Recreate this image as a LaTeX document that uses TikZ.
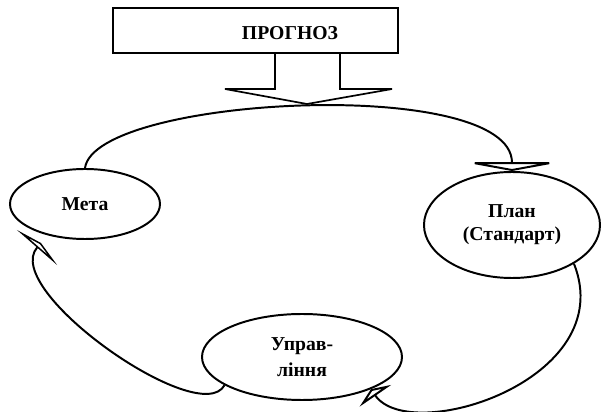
\documentclass[tikz,border=0pt]{standalone}
\usepackage{fontspec}
\setmainfont{Liberation Serif}
\usetikzlibrary{arrows.meta, shapes.geometric, positioning}

\tikzset{
  stage/.style={draw, ellipse, line width=1.4pt, inner sep=0pt, align=center,
    font=\fontsize{14}{16.5}\selectfont\bfseries},
  flow/.style={line width=1.4pt},
}

\begin{document}
\begin{tikzpicture}
    \useasboundingbox (0,0) rectangle (15.2,10.3);

    % Forecast box with block arrow
    \node[draw, line width=1.4pt, minimum width=7.125cm, minimum height=1.125cm, inner sep=0pt] (prognoz) at (6.39,9.54) {};
    \node[font=\fontsize{14}{16.5}\selectfont\bfseries] (prognoztext) at (7.25,9.475) {ПРОГНОЗ};
    \draw[line width=1.2pt] (6.875,8.975) -- (6.875,8.075) -- (5.625,8.075) -- (7.675,7.7)
        -- (9.8,8.075) -- (8.5,8.075) -- (8.5,8.975);

    % Stages of the cycle
    \node[stage, minimum width=3.75cm, minimum height=1.75cm] (meta) at (2.125,5.2) {Мета};
    \node[stage, minimum width=4.4cm, minimum height=2.65cm] (plan) at (12.8,4.675) {План\\(Стандарт)};
    \node[stage, minimum width=5cm, minimum height=2.15cm] (upr) at (7.55,1.375) {Управ-\\[2pt]ління};
    \coordinate (metain) at (1.025,4.225);

    % Cycle connectors
    \draw[flow, -{Triangle[open, length=0.22cm, width=2.4cm]}] (meta.north)
        .. controls (2.375,7.9) and (12.8,8.425) .. (plan.north);
    \draw[flow, -{Triangle[open, length=0.2cm, width=0.95cm]}] (plan.-32)
        .. controls (15.5,0.8) and (10.25,-0.85) .. (upr.-25);
    \draw[flow, -{Triangle[open, length=0.15cm, width=1.33cm]}] (upr.200)
        .. controls (5.0,-0.45) and (0,3.05) .. (metain);
\end{tikzpicture}
\end{document}
